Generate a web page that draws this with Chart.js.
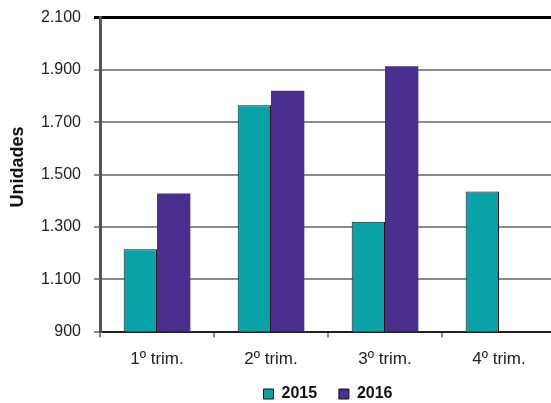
<!DOCTYPE html>
<html>
<head>
<meta charset="utf-8">
<script src="https://cdn.jsdelivr.net/npm/chart.js@4/dist/chart.umd.min.js"></script>
<style>
  html, body { margin:0; padding:0; background:#fff; overflow:hidden; }
  #wrap { width:556px; height:417px; margin-top:-5px; position:relative; }
</style>
</head>
<body>
<div id="wrap"><canvas id="chart"></canvas></div>
<script>
// datos
const TRIMESTRES = ['1º trim.', '2º trim.', '3º trim.', '4º trim.'];
const V2015 = [1215, 1765, 1320, 1435];
const V2016 = [1428, 1820, 1914, null];
const Y_MIN = 900, Y_MAX = 2100, Y_STEP = 200;

const fam = 'Liberation Sans, Arial, sans-serif';
const fontY  = { family:fam, size:16 };
const fontX  = { family:fam, size:17 };
const fontT  = { family:fam, size:18, weight:'bold' };
const fontL  = { family:fam, size:16, weight:'bold' };
const fmtMiles = v => Number(v).toLocaleString('de-DE');

new Chart(document.getElementById('chart'), {
  type:'bar',
  data:{ labels:TRIMESTRES, datasets:[
    { label:'2015', data:V2015, backgroundColor:'#08A2A8',
      borderColor:'#111', borderWidth:1 },
    { label:'2016', data:V2016, backgroundColor:'#4B2F8E',
      borderColor:'#4B2F8E', borderWidth:0 },
  ]},
  options:{
    responsive:true, maintainAspectRatio:false, animation:false,
    layout:{ padding:{ top:4, left:0, right:0, bottom:0 } },
    datasets:{ bar:{ categoryPercentage:0.585, barPercentage:1.0 } },
    plugins:{
      tooltip:{ enabled:false },
      legend:{ position:'bottom', fullSize:false,
        labels:{ font:fontL, color:'#111', boxWidth:10, boxHeight:10, padding:4,
          generateLabels(chart) {
            const n = chart.data.datasets.length;
            return chart.data.datasets.map((ds, i) => ({
              text: ds.label + (i < n - 1 ? '    ' : ''),
              fillStyle:ds.backgroundColor,
              strokeStyle:'#111', lineWidth:1, datasetIndex:i, fontColor:'#111'
            }));
          } } },
    },
    scales:{
      x:{
        grid:{ drawOnChartArea:false, tickLength:6, color:'#888', lineWidth:2 },
        border:{ color:'#222', width:2 },
        ticks:{ font:fontX, color:'#222', padding:12 },
      },
      y:{
        min:Y_MIN, max:Y_MAX,
        afterFit(scale) { scale.width = 100; },
        grid:{ tickLength:6, lineWidth:c => c.tick && c.tick.value === Y_MAX ? 3 : 2,
               color:c => c.tick && c.tick.value === Y_MAX ? '#000' : '#8a8a8a' },
        border:{ color:'#555', width:3 },
        ticks:{ stepSize:Y_STEP, font:fontY, color:'#222', padding:13, callback:fmtMiles },
        title:{ display:true, text:'   Unidades', font:fontT, color:'#111', padding:{ top:7 } },
      },
    },
  },
});
</script>
</body>
</html>
